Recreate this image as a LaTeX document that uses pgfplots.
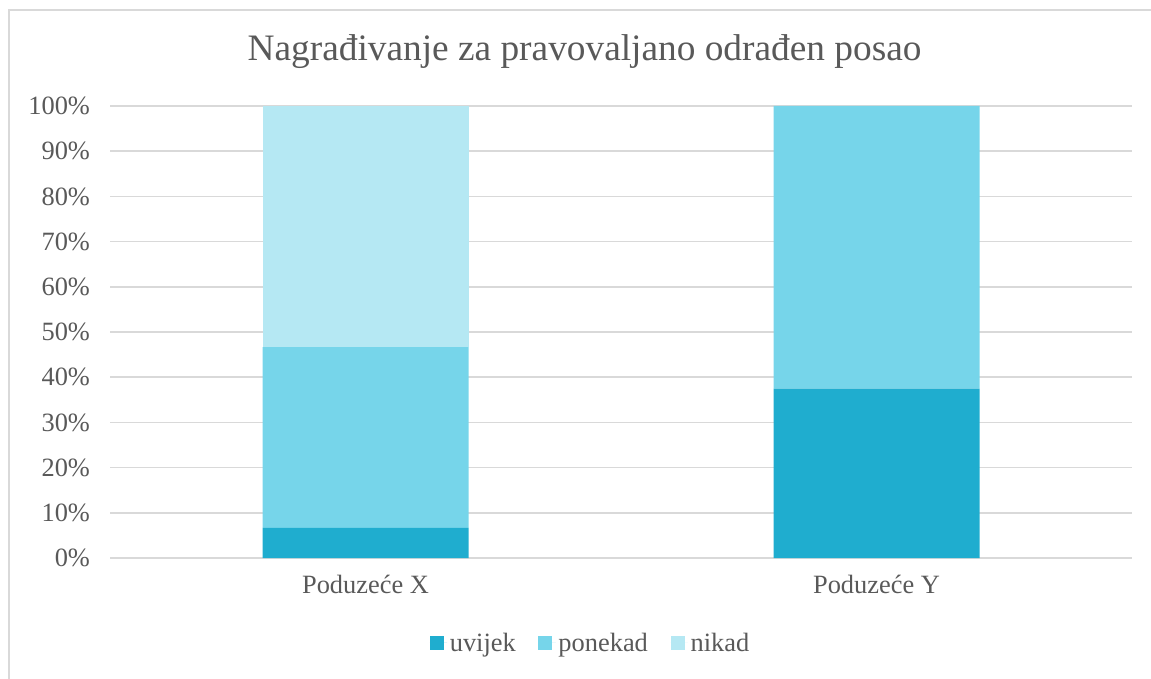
\documentclass[border=0pt]{standalone}
\usepackage{pgfplots}
\pgfplotsset{compat=1.18}
\usepackage{fontspec}
\setmainfont{Liberation Serif}
\definecolor{cA}{HTML}{1FADCF}
\definecolor{cB}{HTML}{76D5EA}
\definecolor{cC}{HTML}{B5E8F3}
\definecolor{txt}{HTML}{595959}
\definecolor{grd}{HTML}{D9D9D9}
\begin{document}
\begin{tikzpicture}
\useasboundingbox (0,0) rectangle (863.25pt,508.5pt);
\draw[grd, line width=1.1pt] (6.75pt,-2pt) -- (6.75pt,501pt) -- (866pt,501pt);
\node[text=txt, font=\fontsize{28}{30}\selectfont, anchor=center] at (438.4pt,469.5pt) {Nagrađivanje za pravovaljano odrađen posao};
\begin{axis}[
  at={(82.5pt,90pt)}, anchor=south west,
  scale only axis, width=766.5pt, height=339pt,
  ybar stacked, bar width=154.5pt,
  xmin=-0.5, xmax=1.5, ymin=0, ymax=100,
  xtick={0,1}, xticklabels={Poduzeće X, Poduzeće Y},
  ytick={0,10,...,100},
  yticklabel={\pgfmathprintnumber{\tick}\%},
  /pgf/number format/assume math mode=true,
  ticklabel style={text=txt, font=\fontsize{19.8}{22}\selectfont},
  xticklabel style={yshift=-9pt},
  yticklabel style={xshift=-11.5pt},
  major tick length=0pt,
  axis line style={draw=none},
  axis x line*=bottom,
  ymajorgrids, grid style={grd, line width=1.1pt},
  legend style={at={(0.4705,-0.188)}, anchor=center, draw=none, legend columns=3,
    font=\fontsize{19.8}{22}\selectfont, text=txt,
    /tikz/every even column/.append style={column sep=15pt}},
  legend image code/.code={\fill[#1] (0pt,-5pt) rectangle (10.5pt,5.5pt); \path (0pt,0pt) -- (13pt,0pt);},
]
\addplot[fill=cA, draw=none] coordinates {(0,6.67) (1,37.5)};
\addplot[fill=cB, draw=none] coordinates {(0,40) (1,62.5)};
\addplot[fill=cC, draw=none] coordinates {(0,53.33) (1,0)};
\legend{uvijek, ponekad, nikad}
\draw[grd, line width=1.1pt] (rel axis cs:0,0) -- (rel axis cs:1,0);
\end{axis}
\end{tikzpicture}
\end{document}
